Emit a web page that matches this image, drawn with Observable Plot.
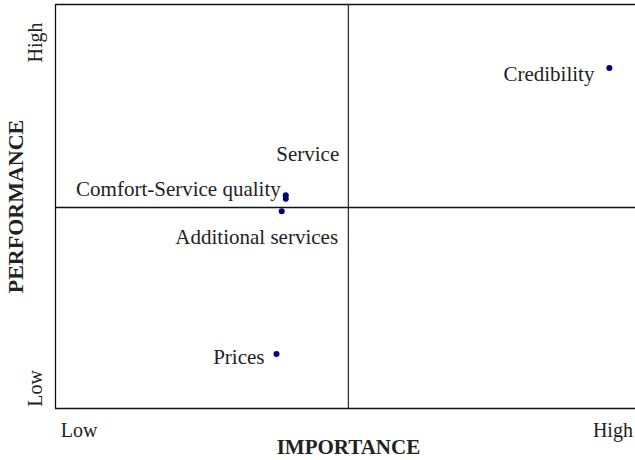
<!DOCTYPE html>
<html><head><meta charset="utf-8">
<script src="https://cdn.jsdelivr.net/npm/d3@7"></script>
<script src="https://cdn.jsdelivr.net/npm/@observablehq/plot@0.6"></script>
<style>body{margin:0;background:#fff}</style>
</head><body><div id="chart"></div>
<script>
const attributes = ["Credibility","Service","Comfort-Service quality","Additional services","Prices"];
const importance = [95.5, 39.7, 39.7, 39.0, 38.1];
const performance = [84.3, 52.8, 51.9, 48.8, 13.5];
const midImportance = 50.5;
const midPerformance = 49.75;
const xTickLabels = ["Low","High"];
const xTickValues = [4.05, 96.1];
const yTickLabels = ["Low","High"];
const yTickValues = [4.95, 90.6];
const xTitle = "IMPORTANCE";
const yTitle = "PERFORMANCE";

const pts = attributes.map((a,i)=>({a, x: importance[i], y: performance[i]}));
const font = "Liberation Serif";
const labelOpts = [
  {textAnchor:"end", dx:-15, dy:6},
  {textAnchor:"middle", dx:22, dy:-41},
  {textAnchor:"end", dx:-5, dy:-10},
  {textAnchor:"middle", dx:-25, dy:26},
  {textAnchor:"end", dx:-12, dy:3}
];

const chart = Plot.plot({
  width: 635, height: 460,
  marginTop: 4, marginLeft: 55, marginRight: 0, marginBottom: 52,
  style: {fontFamily: font, background: "#fff"},
  x: {domain: [0,100], axis: null},
  y: {domain: [0,100], axis: null},
  marks: [
    Plot.ruleX([0], {stroke:"#111", strokeWidth:1.3}),
    Plot.ruleY([0, 100], {stroke:"#111", strokeWidth:1.3}),
    Plot.ruleX([midImportance], {stroke:"#333", strokeWidth:1.3}),
    Plot.ruleY([midPerformance], {stroke:"#111", strokeWidth:1.3}),
    Plot.dot(pts, {x:"x", y:"y", r:3, fill:"#00007a", stroke:"none"}),
    ...pts.map((p,i)=>Plot.text([p], {x:"x", y:"y", text:"a", fontSize:21, fontFamily:font, fill:"#222", ...labelOpts[i]})),
    Plot.text(xTickLabels, {x:(d,i)=>xTickValues[i], text:d=>d, frameAnchor:"bottom", lineAnchor:"middle", textAnchor:"middle", dy:22, fontSize:20, fontFamily:font, fill:"#222"}),
    Plot.text(yTickLabels, {y:(d,i)=>yTickValues[i], text:d=>d, frameAnchor:"left", lineAnchor:"middle", textAnchor:"middle", dx:-20, rotate:-90, fontSize:20, fontFamily:font, fill:"#222"}),
    Plot.text([xTitle], {x:midImportance, text:d=>d, frameAnchor:"bottom", lineAnchor:"middle", textAnchor:"middle", dy:39, fontSize:21, fontWeight:"bold", fontFamily:font, fill:"#222"}),
    Plot.text([yTitle], {y:50, text:d=>d, frameAnchor:"left", lineAnchor:"middle", textAnchor:"middle", dx:-40, rotate:-90, fontSize:22, fontWeight:"bold", fontFamily:font, fill:"#222"})
  ]
});
document.getElementById("chart").appendChild(chart);
</script></body></html>
